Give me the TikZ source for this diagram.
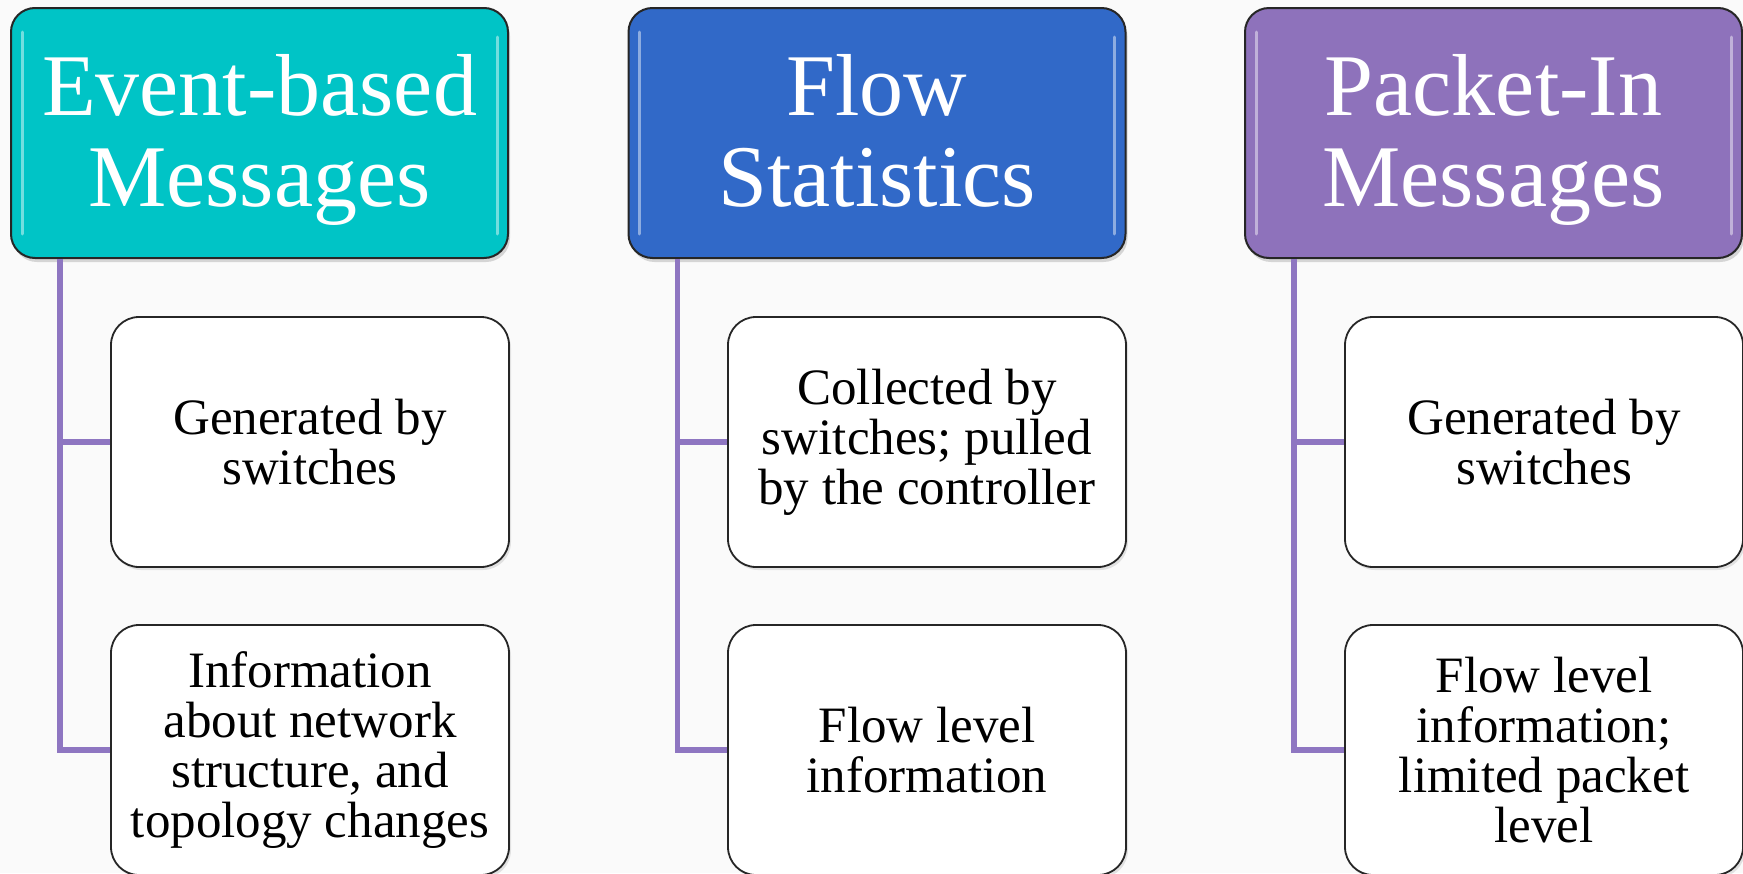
\documentclass[tikz,border=0pt]{standalone}
\usepackage{fontspec}
\setmainfont{Liberation Serif}
\usetikzlibrary{shadows}
\definecolor{evcyan}{RGB}{0,196,198}
\definecolor{flowblue}{RGB}{49,105,200}
\definecolor{pktpurple}{RGB}{142,114,187}
\definecolor{stemcol}{RGB}{142,118,193}
\tikzset{
  head/.style={draw=black!85,line width=2pt,rounded corners=24pt,
    minimum width=497pt,minimum height=250pt,text=white,align=center,
    font=\fontsize{88}{91}\selectfont,text depth=5pt,
    drop shadow={opacity=0.3,shadow xshift=2pt,shadow yshift=-4pt}},
  leaf/.style={draw=black!85,line width=1.8pt,fill=white,rounded corners=28pt,
    minimum width=398pt,minimum height=250pt,align=center,
    font=\fontsize{51}{50}\selectfont,
    drop shadow={opacity=0.2,shadow xshift=2pt,shadow yshift=-3pt}},
  stemline/.style={draw=stemcol,line width=5.5pt},
  gloss/.style={draw=white,opacity=0.45,line width=3pt,line cap=round}
}
\begin{document}
\begin{tikzpicture}[x=1pt,y=-1pt]
\useasboundingbox[fill=black!2] (0,0) rectangle (1743,873);

\node[head,fill=evcyan] (h1) at (259.5,133) {Event-based\\Messages};
\node[head,fill=flowblue] (h2) at (877,133) {Flow\\Statistics};
\node[head,fill=pktpurple] (h3) at (1493.5,133) {Packet-In\\Messages};

\draw[gloss] ([xshift=12pt,yshift=-25pt]h1.north west) -- ([xshift=12pt,yshift=25pt]h1.south west);
\draw[gloss] ([xshift=-12pt,yshift=-30pt]h1.north east) -- ([xshift=-12pt,yshift=25pt]h1.south east);
\draw[gloss] ([xshift=12pt,yshift=-25pt]h2.north west) -- ([xshift=12pt,yshift=25pt]h2.south west);
\draw[gloss] ([xshift=-12pt,yshift=-30pt]h2.north east) -- ([xshift=-12pt,yshift=25pt]h2.south east);
\draw[gloss] ([xshift=12pt,yshift=-25pt]h3.north west) -- ([xshift=12pt,yshift=25pt]h3.south west);
\draw[gloss] ([xshift=-12pt,yshift=-30pt]h3.north east) -- ([xshift=-12pt,yshift=25pt]h3.south east);

\node[leaf] (a1) at (310,442) {Generated by\\switches};
\node[leaf] (a2) at (310,750) {Information\\about network\\structure, and\\topology changes};
\node[leaf] (b1) at (927,442) {Collected by\\switches; pulled\\by the controller};
\node[leaf] (b2) at (927,750) {Flow level\\information};
\node[leaf] (c1) at (1544,442) {Generated by\\switches};
\node[leaf] (c2) at (1544,750) {Flow level\\information;\\limited packet\\level};

\coordinate (sa) at ([xshift=50pt]h1.south west);
\coordinate (sb) at ([xshift=50pt]h2.south west);
\coordinate (sc) at ([xshift=50pt]h3.south west);

\draw[stemline] (sa) |- (a1.west);
\draw[stemline] (sa) |- (a2.west);
\draw[stemline] (sb) |- (b1.west);
\draw[stemline] (sb) |- (b2.west);
\draw[stemline] (sc) |- (c1.west);
\draw[stemline] (sc) |- (c2.west);
\end{tikzpicture}
\end{document}
